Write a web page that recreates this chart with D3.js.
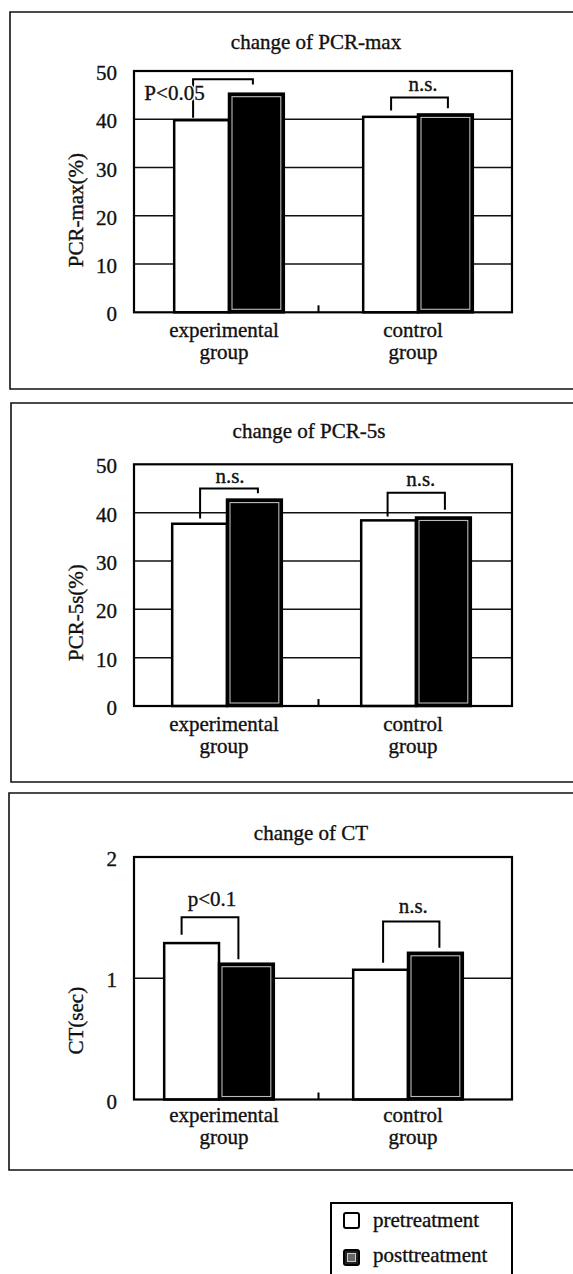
<!DOCTYPE html>
<html>
<head>
<meta charset="utf-8">
<script src="https://cdn.jsdelivr.net/npm/d3@7"></script>
<style>
  html, body { margin: 0; padding: 0; background: #fff; }
  svg { display: block; }
  svg text { stroke: #111; stroke-width: 0.35px; }
</style>
</head>
<body>
<div id="chart"></div>
<script>
// values
const groups = ['experimental group', 'control group'];
const phases = ['pretreatment', 'posttreatment'];

const pcrMaxPre = [39.8, 40.5];
const pcrMaxPost = [45.3, 41.0];
const pcr5sPre = [37.7, 38.4];
const pcr5sPost = [42.7, 39.0];
const ctPre = [1.29, 1.07];
const ctPost = [1.12, 1.21];

const pcrTicks = [0, 10, 20, 30, 40, 50];
const ctTicks = [0, 1, 2];

const sigMax = ['P<0.05', 'n.s.'];
const sig5s = ['n.s.', 'n.s.'];
const sigCt = ['p<0.1', 'n.s.'];

const W = 573, H = 1274;
const FONT = '"Liberation Serif", "Times New Roman", serif';
const FS = 21;
const PLOT_L = 134, PLOT_R = 512;

// layout of the three stacked panels (pixel positions, bracket levels in data units)
const panels = [
  {
    title: 'change of PCR-max', yLabel: 'PCR-max(%)', pre: pcrMaxPre, post: pcrMaxPost,
    ticks: pcrTicks, sig: sigMax,
    boxTop: 12, boxBottom: 389, boxLeft: 10, titleX: 316, titleY: 48.5,
    plotTop: 71, plotBottom: 312.3, barShift: 5, labelDy: 25,
    brackets: [
      { top: 48.3, l: 40.3, r: 47.2, lx: -8.5, rx: -3.5, tdx: -48.5, tb: 43.9 },
      { top: 44.5, l: 41.8, r: 42.3, lx: 0.5, rx: 2.5, tdx: 3.5, tb: 45.8 },
    ],
  },
  {
    title: 'change of PCR-5s', yLabel: 'PCR-5s(%)', pre: pcr5sPre, post: pcr5sPost,
    ticks: pcrTicks, sig: sig5s,
    boxTop: 403, boxBottom: 782, boxLeft: 11, titleX: 309, titleY: 438,
    plotTop: 464.3, plotBottom: 706, barShift: 3, labelDy: 25,
    brackets: [
      { top: 45.0, l: 38.8, r: 44.0, lx: 0.5, rx: 3.5, tdx: 1, tb: 46.2 },
      { top: 44.1, l: 39.2, r: 40.6, lx: -1, rx: 1.5, tdx: 4.5, tb: 45.5 },
    ],
  },
  {
    title: 'change of CT', yLabel: 'CT(sec)', pre: ctPre, post: ctPost,
    ticks: ctTicks, sig: sigCt,
    boxTop: 793, boxBottom: 1170, boxLeft: 9, titleX: 311, titleY: 840,
    plotTop: 857, plotBottom: 1099.5, barShift: -5, labelDy: 22,
    brackets: [
      { top: 1.504, l: 1.358, r: 1.157, lx: -10, rx: -8, tdx: 2, tb: 1.592 },
      { top: 1.468, l: 1.128, r: 1.252, lx: 2.5, rx: 4, tdx: 2, tb: 1.537 },
    ],
  },
];

const svg = d3.select('#chart').append('svg')
  .attr('width', W).attr('height', H)
  .attr('viewBox', `0 0 ${W} ${H}`)
  .style('font-family', FONT);

svg.append('rect').attr('width', W).attr('height', H).attr('fill', '#fff');

const x0 = d3.scaleBand()
  .domain(groups)
  .range([PLOT_L - 4.5, PLOT_R - 4.5])
  .paddingInner(0.42)
  .paddingOuter(0.21);

const x1 = d3.scaleBand()
  .domain(phases)
  .range([0, x0.bandwidth()]);

panels.forEach(p => {
  const g = svg.append('g');
  const y = d3.scaleLinear()
    .domain([0, p.ticks[p.ticks.length - 1]])
    .range([p.plotBottom, p.plotTop]);

  // panel frame: top, bottom and left rules (right side runs off the page)
  g.append('path')
    .attr('d', `M${W},${p.boxTop}H${p.boxLeft}V${p.boxBottom}H${W}`)
    .attr('fill', 'none').attr('stroke', '#111').attr('stroke-width', 1.6);

  g.append('text')
    .attr('x', p.titleX).attr('y', p.titleY)
    .attr('text-anchor', 'middle')
    .attr('font-size', FS).attr('fill', '#111')
    .text(p.title);

  // gridlines
  g.selectAll('.grid')
    .data(p.ticks.slice(1, -1))
    .join('line')
    .attr('x1', PLOT_L).attr('x2', PLOT_R)
    .attr('y1', d => y(d)).attr('y2', d => y(d))
    .attr('stroke', '#111').attr('stroke-width', 1.5);

  // tick labels
  g.selectAll('.tick')
    .data(p.ticks)
    .join('text')
    .attr('x', 117).attr('y', d => y(d) + 9)
    .attr('text-anchor', 'end')
    .attr('font-size', FS).attr('fill', '#111')
    .text(d => d);

  // y label
  g.append('text')
    .attr('transform', `translate(83,${p.plotBottom - 45}) rotate(-90)`)
    .attr('text-anchor', 'start')
    .attr('font-size', FS).attr('fill', '#111')
    .text(p.yLabel);

  // bars
  groups.forEach((grp, i) => {
    const gx = x0(grp) + p.barShift;
    const vals = { pretreatment: p.pre[i], posttreatment: p.post[i] };
    phases.forEach(ph => {
      const bx = gx + x1(ph);
      const by = y(vals[ph]);
      const bw = x1.bandwidth();
      const bh = y(0) - by;
      if (ph === 'pretreatment') {
        g.append('rect')
          .attr('x', bx).attr('y', by).attr('width', bw).attr('height', bh)
          .attr('fill', '#fff').attr('stroke', '#000').attr('stroke-width', 2.5);
      } else {
        g.append('rect')
          .attr('x', bx).attr('y', by).attr('width', bw).attr('height', bh)
          .attr('fill', '#000').attr('stroke', '#000').attr('stroke-width', 2.5);
        g.append('rect')
          .attr('x', bx + 3).attr('y', by + 3).attr('width', bw - 6).attr('height', bh - 6)
          .attr('fill', 'none').attr('stroke', '#bbb').attr('stroke-width', 1.1);
      }
    });

    // significance bracket
    const b = p.brackets[i];
    const lx = gx + x1('pretreatment') + x1.bandwidth() / 2 + b.lx;
    const rx = gx + x1('posttreatment') + x1.bandwidth() / 2 + b.rx;
    g.append('path')
      .attr('d', `M${lx},${y(b.l)}V${y(b.top)}H${rx}V${y(b.r)}`)
      .attr('fill', 'none').attr('stroke', '#000').attr('stroke-width', 2);
    // white halo first, then the label itself
    g.append('text')
      .attr('x', (lx + rx) / 2 + b.tdx).attr('y', y(b.tb))
      .attr('text-anchor', 'middle')
      .attr('font-size', FS).attr('fill', '#fff')
      .style('stroke', '#fff').style('stroke-width', '3px')
      .text(p.sig[i]);
    g.append('text')
      .attr('x', (lx + rx) / 2 + b.tdx).attr('y', y(b.tb))
      .attr('text-anchor', 'middle')
      .attr('font-size', FS).attr('fill', '#111')
      .text(p.sig[i]);

    // category label, two lines
    const t = g.append('text')
      .attr('text-anchor', 'middle')
      .attr('font-size', FS).attr('fill', '#111');
    grp.split(' ').forEach((w, k) => {
      t.append('tspan')
        .attr('x', x0(grp) + x0.bandwidth() / 2)
        .attr('y', p.plotBottom + p.labelDy + k * 22)
        .text(w);
    });
  });

  // plot frame
  g.append('rect')
    .attr('x', PLOT_L).attr('y', p.plotTop)
    .attr('width', PLOT_R - PLOT_L).attr('height', p.plotBottom - p.plotTop)
    .attr('fill', 'none').attr('stroke', '#000').attr('stroke-width', 2.2);

  // small separator tick between the groups
  const midX = (x0(groups[0]) + x0.bandwidth() + x0(groups[1])) / 2;
  g.append('line')
    .attr('x1', midX).attr('x2', midX)
    .attr('y1', p.plotBottom).attr('y2', p.plotBottom - 7)
    .attr('stroke', '#000').attr('stroke-width', 2);
});

// legend
const lg = svg.append('g');
lg.append('path')
  .attr('d', `M331,${H + 5}V1203H512V${H + 5}`)
  .attr('fill', 'none').attr('stroke', '#000').attr('stroke-width', 2);

lg.selectAll('.sw')
  .data(phases)
  .join('rect')
  .attr('x', 344).attr('y', (d, i) => 1213 + i * 37)
  .attr('width', 15).attr('height', 15).attr('rx', 2)
  .attr('fill', (d, i) => i === 0 ? '#fff' : '#222')
  .attr('stroke', '#000').attr('stroke-width', 2);

lg.append('rect')
  .attr('x', 347.5).attr('y', 1253.5).attr('width', 8).attr('height', 8)
  .attr('fill', '#666').attr('stroke', '#ccc').attr('stroke-width', 1);

lg.selectAll('.lt')
  .data(phases)
  .join('text')
  .attr('x', 373).attr('y', (d, i) => 1227 + i * 35)
  .attr('font-size', FS).attr('fill', '#111')
  .text(d => d);
</script>
</body>
</html>
